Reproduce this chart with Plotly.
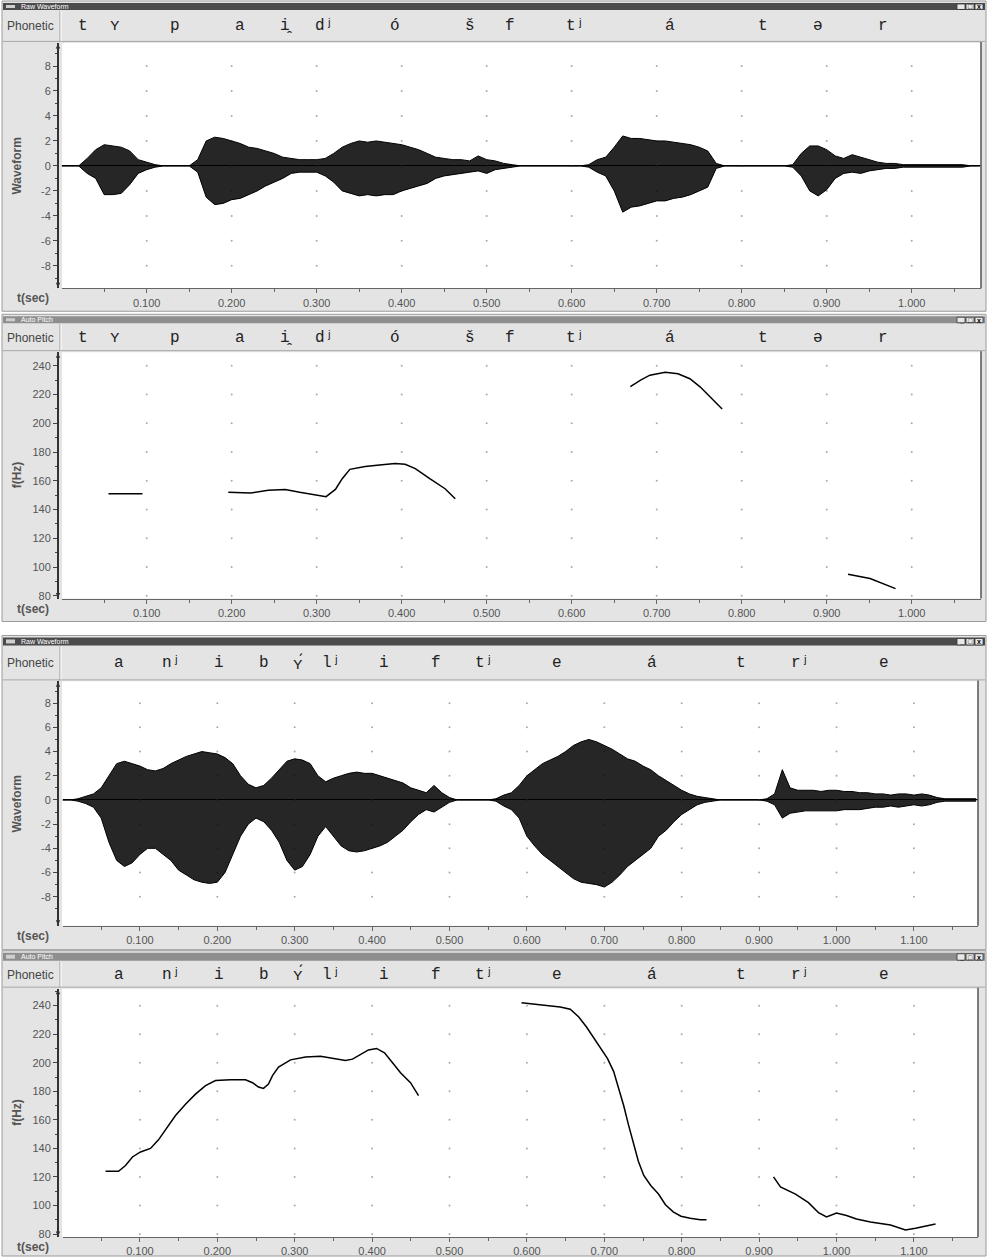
import plotly.graph_objects as go

W, H = 988, 1260
def px(x): return x / W
def py(y): return 1 - y / H

# ---------------- data ----------------
WAVE_STEP = 0.01  # envelope sampled every 10 ms

# Envelope (max / min) of raw waveform, word 1 (0.00 .. 1.08 s)
wave1_upper = [0, 0, 0, 0.6, 1.3, 1.7, 1.6, 1.5, 1.2, 0.5,
               0.3, 0.1, 0, 0, 0, 0, 0.5, 2.0, 2.3, 2.2,
               2.0, 1.8, 1.5, 1.4, 1.2, 1.0, 0.7, 0.6, 0.5, 0.5,
               0.5, 0.6, 1.0, 1.5, 1.8, 2.0, 1.9, 2.0, 1.9, 1.8,
               1.7, 1.5, 1.3, 1.0, 0.7, 0.6, 0.5, 0.5, 0.4, 0.8,
               0.5, 0.4, 0.2, 0.1, 0, 0, 0, 0, 0, 0,
               0, 0, 0.1, 0.5, 0.7, 1.5, 2.4, 2.2, 2.2, 2.1,
               2.0, 2.0, 1.9, 1.8, 1.7, 1.5, 1.2, 0.2, 0, 0,
               0, 0, 0, 0, 0, 0, 0.1, 1.0, 1.6, 1.6,
               1.3, 0.8, 0.6, 0.9, 0.7, 0.5, 0.3, 0.2, 0.2, 0.1,
               0.1, 0.1, 0.1, 0.1, 0.1, 0.1, 0.1, 0, 0]
wave1_lower = [0, 0, 0, -0.6, -1.0, -2.3, -2.3, -2.2, -1.5, -0.6,
               -0.3, -0.1, 0, 0, 0, 0, -0.5, -2.5, -3.1, -3.0,
               -2.7, -2.6, -2.3, -2.0, -1.6, -1.3, -1.0, -0.6, -0.5, -0.5,
               -0.5, -0.8, -1.3, -2.0, -2.2, -2.4, -2.3, -2.4, -2.3, -2.3,
               -2.0, -1.8, -1.6, -1.4, -1.0, -0.8, -0.7, -0.6, -0.5, -0.4,
               -0.6, -0.3, -0.2, -0.1, 0, 0, 0, 0, 0, 0,
               0, 0, -0.1, -0.5, -0.8, -2.0, -3.7, -3.3, -3.2, -3.0,
               -2.8, -2.8, -2.6, -2.5, -2.3, -2.0, -1.7, -0.2, 0, 0,
               0, 0, 0, 0, 0, 0, -0.1, -0.8, -2.0, -2.4,
               -1.9, -1.0, -0.6, -0.5, -0.6, -0.4, -0.3, -0.2, -0.2, -0.1,
               -0.1, -0.1, -0.1, -0.1, -0.1, -0.1, -0.1, 0, 0]

# Envelope of raw waveform, word 2 (0.00 .. 1.18 s)
wave2_upper = [0, 0, 0.1, 0.3, 0.5, 1.0, 2.0, 3.0, 3.2, 3.0,
               2.8, 2.5, 2.4, 2.6, 3.0, 3.3, 3.6, 3.8, 4.0, 3.9,
               3.8, 3.5, 3.0, 2.0, 1.3, 1.0, 1.2, 1.8, 2.5, 3.2,
               3.4, 3.3, 3.0, 2.0, 1.5, 1.8, 2.0, 2.2, 2.3, 2.2,
               2.2, 2.0, 1.8, 1.6, 1.4, 1.0, 0.8, 0.6, 1.2, 0.6,
               0.2, 0, 0, 0, 0, 0, 0.1, 0.4, 0.6, 1.2,
               2.0, 2.5, 3.0, 3.3, 3.6, 4.0, 4.5, 4.8, 5.0, 4.8,
               4.5, 4.2, 3.8, 3.4, 3.2, 2.8, 2.5, 2.0, 1.6, 1.2,
               0.8, 0.5, 0.3, 0.2, 0.1, 0, 0, 0, 0, 0,
               0, 0.1, 0.5, 2.5, 1.0, 0.8, 0.8, 0.8, 0.7, 0.8,
               0.8, 0.7, 0.7, 0.6, 0.6, 0.5, 0.5, 0.4, 0.5, 0.5,
               0.4, 0.5, 0.4, 0.2, 0.1, 0.1, 0.1, 0.1, 0.1]
wave2_lower = [0, 0, -0.1, -0.3, -0.6, -1.5, -3.5, -5.0, -5.5, -5.2,
               -4.5, -4.0, -4.0, -4.5, -5.0, -5.8, -6.2, -6.6, -6.8, -6.9,
               -6.8, -6.0, -4.5, -3.0, -2.0, -1.5, -1.8, -2.5, -3.5, -5.0,
               -5.8, -5.5, -4.5, -3.0, -2.2, -3.0, -3.8, -4.2, -4.3, -4.2,
               -4.0, -3.8, -3.5, -3.0, -2.5, -1.8, -1.2, -0.8, -1.0, -0.6,
               -0.2, 0, 0, 0, 0, 0, -0.1, -0.5, -0.8, -1.5,
               -3.0, -3.8, -4.5, -5.0, -5.5, -6.0, -6.5, -6.8, -6.9, -7.0,
               -7.2, -6.8, -6.2, -5.5, -5.0, -4.5, -4.0, -3.0, -2.5, -1.8,
               -1.2, -0.8, -0.4, -0.2, -0.1, 0, 0, 0, 0, 0,
               0, -0.1, -0.4, -1.5, -1.1, -1.0, -0.9, -0.9, -0.9, -0.9,
               -0.9, -0.8, -0.8, -0.8, -0.7, -0.6, -0.6, -0.5, -0.6, -0.5,
               -0.4, -0.5, -0.4, -0.2, -0.1, -0.1, -0.1, -0.1, -0.1]

# Auto pitch contours (time s, f Hz), word 1
pitch1_t = [[0.055, 0.095],
            [0.196, 0.222, 0.243, 0.263, 0.280, 0.298, 0.311, 0.322, 0.330,
             0.339, 0.357, 0.374, 0.392, 0.404, 0.416, 0.433, 0.451, 0.463],
            [0.669, 0.681, 0.692, 0.710, 0.725, 0.739, 0.751, 0.763, 0.777],
            [0.925, 0.951, 0.981]]
pitch1_hz = [[151, 151],
             [152, 151.5, 153.5, 154, 152, 150, 149, 154, 161.5,
              168, 170, 171, 172, 171.5, 168.5, 161.5, 154.5, 147.5],
             [225.5, 230, 233.5, 235.5, 234.5, 231, 225.4, 218.4, 210],
             [95, 92, 85]]

# Auto pitch contours, word 2
pitch2_t = [[0.0556, 0.0724, 0.0814, 0.0904, 0.1008, 0.1137, 0.124, 0.1344, 0.146,
             0.1589, 0.1718, 0.1848, 0.1977, 0.2171, 0.2364, 0.2455, 0.2532, 0.2597,
             0.2661, 0.2713, 0.2791, 0.2946, 0.314, 0.3333, 0.3527, 0.3656, 0.3747,
             0.385, 0.3953, 0.4057, 0.416, 0.4264, 0.4367, 0.4496, 0.46],
            [0.593, 0.618, 0.643, 0.656, 0.667, 0.677, 0.687, 0.695, 0.704, 0.712,
             0.718, 0.725, 0.731, 0.738, 0.744, 0.751, 0.760, 0.770, 0.779, 0.789,
             0.799, 0.811, 0.824, 0.832],
            [0.9186, 0.9276, 0.947, 0.9638, 0.9767, 0.9871, 1.0, 1.0129, 1.0258,
             1.0439, 1.0698, 1.0891, 1.102, 1.1279]]
pitch2_hz = [[124, 124, 128, 134, 137.5, 140, 146, 154, 163,
              171, 178, 184, 187.5, 188, 188, 186, 183, 182,
              185, 191, 197, 202, 204, 204.5, 203, 201.5, 202.5,
              206, 209, 210, 207, 200, 193, 186, 177],
             [242, 240.5, 239, 237.5, 232, 225, 217, 210, 203, 194,
              183, 170, 157, 144, 131, 121, 114, 108, 100.5, 95.5,
              92.5, 91, 90, 90],
             [120, 113, 108, 102, 95, 92, 94.7, 93, 90.5,
              88.4, 86.3, 82.8, 84, 87]]

# Phonetic transcription
phon1 = ['t', 'ʏ', 'p', 'a', 'i̯', 'dʲ', 'ó', 'š', 'f', 'tʲ', 'á', 't', 'ə', 'r']
phon1_t = [0.025, 0.063, 0.133, 0.210, 0.265, 0.309, 0.392, 0.480, 0.527,
           0.604, 0.716, 0.825, 0.890, 0.966]
phon2 = ['a', 'nʲ', 'i', 'b', 'ʏ́', 'lʲ', 'i', 'f', 'tʲ', 'e', 'á', 't', 'rʲ', 'e']
phon2_t = [0.0727, 0.141, 0.2016, 0.2597, 0.3045, 0.3475, 0.415, 0.482, 0.545,
           0.639, 0.762, 0.876, 0.953, 1.061]

# Tick values
xticks1 = [0.1, 0.2, 0.3, 0.4, 0.5, 0.6, 0.7, 0.8, 0.9, 1.0]
xticks2 = [0.1, 0.2, 0.3, 0.4, 0.5, 0.6, 0.7, 0.8, 0.9, 1.0, 1.1]
wave_yticks = [-8, -6, -4, -2, 0, 2, 4, 6, 8]
pitch_yticks = [80, 100, 120, 140, 160, 180, 200, 220, 240]

# ---------------- layout geometry (pixels) ----------------
GRAY = '#e4e4e4'
panels = [
    dict(kind='wave', title='Raw Waveform', active=True, frame=(1, 312), tbar=(3, 10),
         phon=(11, 42), plot=(43, 289), xl=61.7, xr=981, xrange=[0, 1.0815],
         yrange=[-9.8, 9.85], xt=xticks1, env=(wave1_upper, wave1_lower),
         ph=(phon1, phon1_t)),
    dict(kind='pitch', title='Auto Pitch', active=False, frame=(315, 623), tbar=(317, 324),
         phon=(325, 352), plot=(353, 600), xl=61.7, xr=981, xrange=[0, 1.0815],
         yrange=[78.1, 249.5], xt=xticks1, pitch=(pitch1_t, pitch1_hz),
         ph=(phon1, phon1_t)),
    dict(kind='wave', title='Raw Waveform', active=True, frame=(637, 952), tbar=(639, 647),
         phon=(648, 682), plot=(683, 928), xl=62.5, xr=978, xrange=[0, 1.1828],
         yrange=[-10.4, 9.8], xt=xticks2, env=(wave2_upper, wave2_lower),
         ph=(phon2, phon2_t)),
    dict(kind='pitch', title='Auto Pitch', active=False, frame=(953, 1259), tbar=(955, 963),
         phon=(964, 990), plot=(991, 1240), xl=62.5, xr=978, xrange=[0, 1.1828],
         yrange=[77.9, 251.9], xt=xticks2, pitch=(pitch2_t, pitch2_hz),
         ph=(phon2, phon2_t)),
]

fig = go.Figure()
shapes = []
annotations = []
layout_axes = {}

def rect(x0, y0, x1, y1, fill, line=None, lw=1):
    shapes.append(dict(type='rect', xref='paper', yref='paper',
                       x0=px(x0), x1=px(x1), y0=py(y1), y1=py(y0),
                       fillcolor=fill, layer='below',
                       line=dict(width=lw if line else 0, color=line or fill)))

def hline(x0, x1, y, color, w=1):
    shapes.append(dict(type='line', xref='paper', yref='paper', x0=px(x0), x1=px(x1),
                       y0=py(y), y1=py(y), line=dict(color=color, width=w), layer='below'))

def vline(x, y0, y1, color, w=1, layer='below'):
    shapes.append(dict(type='line', xref='paper', yref='paper', x0=px(x), x1=px(x),
                       y0=py(y0), y1=py(y1), line=dict(color=color, width=w), layer=layer))

def label(x, y, text, font, xref='paper', angle=0, xanchor='center'):
    annotations.append(dict(xref=xref, yref='paper', x=x, y=y, text=text, showarrow=False,
                            xanchor=xanchor, yanchor='middle', textangle=angle, font=font))

TICKFONT = dict(family='Liberation Sans, Arial, sans-serif', size=11, color='#555')
SANS = 'Liberation Sans, Arial, sans-serif'

for i, p in enumerate(panels, start=1):
    xa = 'x' if i == 1 else f'x{i}'
    ya = 'y' if i == 1 else f'y{i}'
    fy0, fy1 = p['frame']
    # window frame
    rect(2, fy0, 986, fy1, GRAY, '#9a9a9a')
    # title bar
    tb0, tb1 = p['tbar']
    rect(3, tb0, 985, tb1, '#4b4b4b' if p['active'] else '#8e8e8e')
    label(px(19), py((tb0 + tb1) / 2), p['title'], dict(family=SANS, size=7, color='white'),
          xanchor='left')
    rect(6, tb0 + 2, 15, tb1 - 2, '#cfcfcf')
    for k, g in enumerate(['_', '□', 'x']):
        bx = 957 + k * 9
        rect(bx, tb0 + 1, bx + 8, tb1 - 0.5, '#e8e8e8', '#333', 0.8)
        label(px(bx + 4), py((tb0 + tb1) / 2 + 0.5), f'<b>{g}</b>',
              dict(family=SANS, size=7, color='#000'))
    # phonetic row
    ph0, ph1 = p['phon']
    vline(60, ph0, ph1, '#9c9c9c')
    vline(61, ph0, ph1, '#ffffff')
    hline(3, 985, ph1 - 0.5, '#a8a8a8')
    label(px(31), py((ph0 + ph1) / 2), 'Phonetic', dict(family=SANS, size=12, color='#444'))
    labs, ts = p['ph']
    for lab, tv in zip(labs, ts):
        label(tv, py((ph0 + ph1) / 2), lab,
              dict(family='Liberation Mono, DejaVu Sans Mono, monospace', size=16, color='#222'),
              xref=xa)
    # plot area
    p0, p1 = p['plot']
    rect(62, p0, p['xr'], p1, '#ffffff')
    vline(p['xr'], p0 - 1, p1, '#555', 1.5, 'above')
    # axes
    xt = p['xt']
    xminor = [round(v - 0.05, 3) for v in xt] + [round(xt[-1] + 0.05, 3)]
    layout_axes['xaxis' if i == 1 else f'xaxis{i}'] = dict(
        domain=[px(p['xl']), px(p['xr'])], range=p['xrange'], anchor=ya,
        showgrid=False, zeroline=False, showline=True, linecolor='#666', linewidth=1,
        ticks='outside', ticklen=4, tickcolor='#666', tickwidth=1,
        tickvals=xt, ticktext=[f'{v:.3f}' for v in xt], tickfont=TICKFONT,
        minor=dict(tickvals=xminor, ticks='outside', ticklen=3, tickcolor='#666'),
        fixedrange=True)
    if p['kind'] == 'wave':
        yt = wave_yticks
        ymin = [v + 1 for v in yt[:-1]] + [yt[0] - 1, yt[-1] + 1]
        ylab = '<b>Waveform</b>'
    else:
        yt = pitch_yticks
        ymin = [v + 10 for v in yt]
        ylab = '<b>f(Hz)</b>'
    layout_axes['yaxis' if i == 1 else f'yaxis{i}'] = dict(
        domain=[py(p1), py(p0)], range=p['yrange'], anchor='free', position=px(58),
        showgrid=False, zeroline=(p['kind'] == 'wave'), zerolinecolor='#000', zerolinewidth=1,
        showline=True, linecolor='#333', linewidth=2,
        ticks='outside', ticklen=4, tickcolor='#444', tickwidth=1,
        tickvals=yt, ticktext=[str(v) for v in yt], tickfont=TICKFONT,
        minor=dict(tickvals=ymin, ticks='outside', ticklen=2, tickcolor='#444'),
        fixedrange=True)
    label(px(17), py((p0 + p1) / 2), ylab, dict(family=SANS, size=12, color='#555'), angle=-90)
    label(px(33), py(p1 + 10), '<b>t(sec)</b>', dict(family=SANS, size=12, color='#555'))
    # axis arrows
    for yy, ay in [(p0 + 1, 9), (p1 - 1, -9)]:
        annotations.append(dict(xref='paper', yref='paper', x=px(58), y=py(yy), ax=0, ay=ay,
                                showarrow=True, arrowhead=2, arrowsize=0.9, arrowwidth=1,
                                arrowcolor='#333', text=''))
    # grid dots
    gx = [v for v in xt for _ in yt]
    gy = [w for _ in xt for w in yt]
    fig.add_trace(go.Scatter(x=gx, y=gy, mode='markers', xaxis=xa, yaxis=ya,
                             marker=dict(size=2, color='#aaaaaa'), hoverinfo='skip',
                             showlegend=False))
    # data
    if p['kind'] == 'wave':
        up, lo = p['env']
        tt = [round(k * WAVE_STEP, 3) for k in range(len(up))]
        fig.add_trace(go.Scatter(x=tt + tt[::-1], y=up + lo[::-1], mode='lines',
                                 fill='toself', fillcolor='rgba(0,0,0,0.85)',
                                 line=dict(color='#000', width=1),
                                 xaxis=xa, yaxis=ya, hoverinfo='skip', showlegend=False))
    else:
        for tseg, hseg in zip(*p['pitch']):
            fig.add_trace(go.Scatter(x=tseg, y=hseg, mode='lines',
                                     line=dict(color='#000', width=1.5),
                                     xaxis=xa, yaxis=ya, hoverinfo='skip', showlegend=False))

fig.update_layout(width=W, height=H, margin=dict(l=0, r=0, t=0, b=0),
                  paper_bgcolor='#ffffff', plot_bgcolor='rgba(0,0,0,0)',
                  showlegend=False, shapes=shapes, annotations=annotations, **layout_axes)

fig.write_html('out.html', config={'displayModeBar': False})
